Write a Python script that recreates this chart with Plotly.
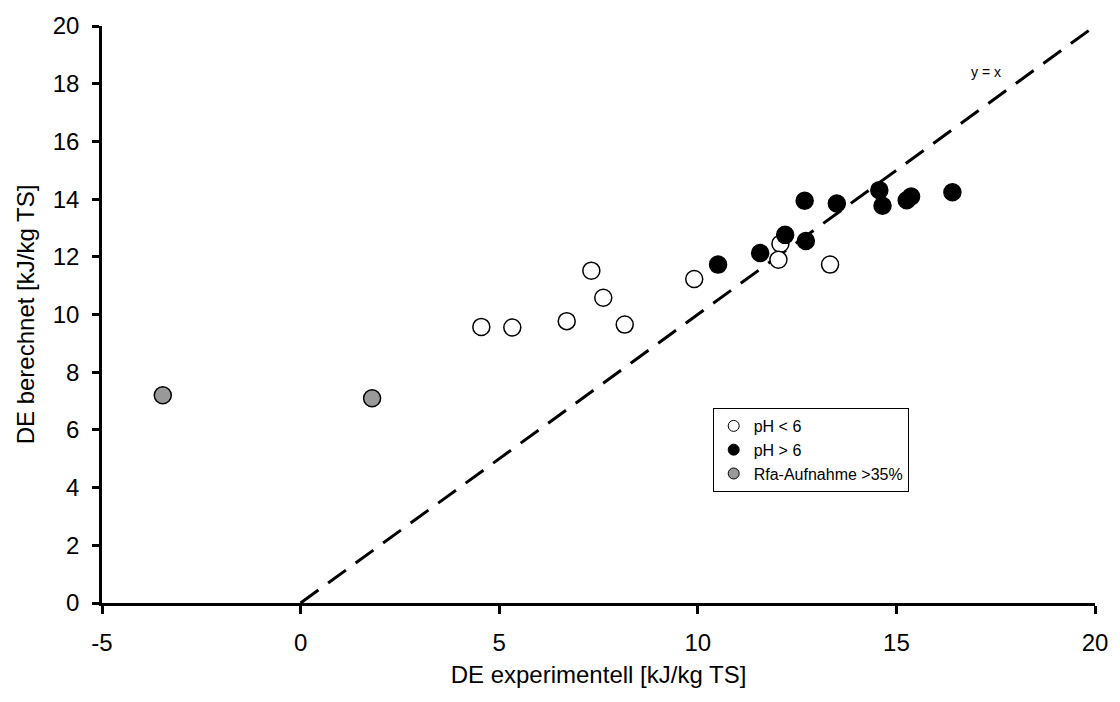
import plotly.graph_objects as go

# pH < 6 (open circles)
open_x = [4.55, 5.33, 6.70, 7.32, 7.62, 8.16, 9.91, 12.08, 12.03, 13.33]
open_y = [9.57, 9.55, 9.77, 11.52, 10.58, 9.65, 11.23, 12.45, 11.90, 11.73]

# pH > 6 (filled black)
fill_x = [10.51, 11.57, 12.20, 12.72, 12.69, 13.50, 14.57, 14.65, 15.26, 15.37, 16.41]
fill_y = [11.73, 12.13, 12.76, 12.55, 13.94, 13.85, 14.31, 13.77, 13.96, 14.09, 14.24]

# Rfa-Aufnahme > 35% (grey)
grey_x = [-3.47, 1.80]
grey_y = [7.20, 7.10]

line_x = [0, 20]
line_y = [0, 20]

x_ticks = [-5, 0, 5, 10, 15, 20]
x_ticktext = ["-5", "0", "5", "10", "15", "20"]
y_ticks = [0, 2, 4, 6, 8, 10, 12, 14, 16, 18, 20]

FONT = "Liberation Sans, Arial, sans-serif"

fig = go.Figure()

fig.add_trace(go.Scatter(x=line_x, y=line_y, mode="lines",
                         line=dict(color="black", width=3, dash="22px,12px"),
                         showlegend=False, hoverinfo="skip"))

fig.add_trace(go.Scatter(x=open_x, y=open_y, mode="markers", showlegend=False,
                         marker=dict(size=17, color="white", line=dict(color="black", width=1.5))))
fig.add_trace(go.Scatter(x=fill_x, y=fill_y, mode="markers", showlegend=False,
                         marker=dict(size=17, color="black", line=dict(color="black", width=1.5))))
fig.add_trace(go.Scatter(x=grey_x, y=grey_y, mode="markers", showlegend=False,
                         marker=dict(size=17, color="#999999", line=dict(color="black", width=1.5))))

# legend entries
fig.add_trace(go.Scatter(x=[None], y=[None], mode="markers", name="pH < 6",
                         marker=dict(size=11, color="white", line=dict(color="black", width=1))))
fig.add_trace(go.Scatter(x=[None], y=[None], mode="markers", name="pH > 6",
                         marker=dict(size=11, color="black", line=dict(color="black", width=1))))
fig.add_trace(go.Scatter(x=[None], y=[None], mode="markers", name="Rfa-Aufnahme >35%",
                         marker=dict(size=11, color="#999999", line=dict(color="black", width=1))))

fig.add_annotation(x=17.25, y=18.42, text="y = x", showarrow=False,
                   font=dict(family=FONT, size=14, color="black"))

fig.update_layout(
    width=1120, height=702,
    margin=dict(l=102, r=18, t=20, b=99),
    paper_bgcolor="white", plot_bgcolor="white",
    font=dict(family=FONT, size=24, color="black"),
    showlegend=True,
    legend=dict(x=0.615, y=0.338, xanchor="left", yanchor="top",
                bordercolor="black", borderwidth=1, bgcolor="white",
                font=dict(family=FONT, size=16, color="black"),
                itemwidth=30, tracegroupgap=0),
    xaxis=dict(range=[-5, 20], tickvals=x_ticks, ticktext=x_ticktext,
               showgrid=False, zeroline=False,
               showline=True, linecolor="black", linewidth=2.5,
               ticks="outside", ticklen=8, tickwidth=2.5, tickcolor="black",
               ticklabelstandoff=8,
               title=dict(text="DE experimentell [kJ/kg TS]", standoff=12, font=dict(size=24)),
               tickfont=dict(size=24)),
    yaxis=dict(range=[0, 20], tickvals=y_ticks, showgrid=False, zeroline=False,
               showline=True, linecolor="black", linewidth=2.5,
               ticks="outside", ticklen=7, tickwidth=2.5, tickcolor="black",
               ticklabelstandoff=8,
               title=dict(text="DE berechnet [kJ/kg TS]", standoff=12, font=dict(size=24)),
               tickfont=dict(size=24)),
)

fig.write_html("out.html")
